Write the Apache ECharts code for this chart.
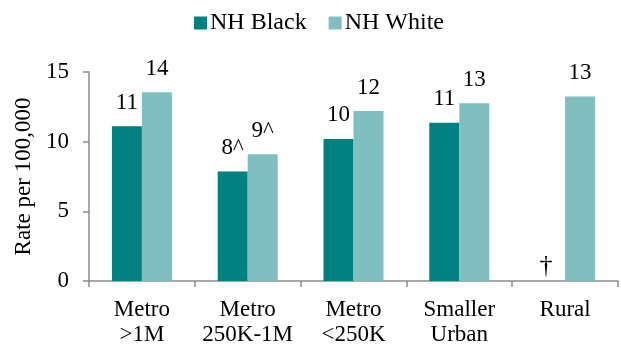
<!DOCTYPE html>
<html>
<head>
<meta charset="utf-8">
<script src="https://cdn.jsdelivr.net/npm/echarts@6.0.0/dist/echarts.min.js"></script>
<style>
  html, body { margin: 0; padding: 0; background: #fff; }
  #container { width: 621px; height: 347px; }
</style>
</head>
<body>
<div id="container"></div>
<script>
// data
var categories = ['Metro\n>1M', 'Metro\n250K-1M', 'Metro\n<250K', 'Smaller\nUrban', 'Rural'];
var blackValues = [11.1, 7.85, 10.2, 11.35, 0];
var whiteValues = [13.55, 9.1, 12.2, 12.75, 13.25];
var blackLabels = ['11', '8^', '10', '11', '\u2020'];
var whiteLabels = ['14', '9^', '12', '13', '13'];
var yTicks = [0, 5, 10, 15];

var font = '"Liberation Serif", "Times New Roman", serif';

var chart = echarts.init(document.getElementById('container'));

var option = {
    animation: false,
    textStyle: { fontFamily: font, color: '#000' },
    legend: {
        data: ['NH Black', 'NH White'],
        left: 189,
        top: 6,
        icon: 'rect',
        itemWidth: 13,
        itemHeight: 13,
        itemGap: 22,
        textStyle: { fontFamily: font, fontSize: 24, color: '#000', padding: [0, 0, 0, -2] }
    },
    grid: {
        left: 89,
        right: 3,
        top: 72,
        bottom: 66
    },
    xAxis: {
        type: 'category',
        data: categories,
        axisLine: { lineStyle: { color: '#8c8c8c', width: 1.5 } },
        axisTick: { show: true, length: 6, lineStyle: { color: '#8c8c8c', width: 1.5 } },
        axisLabel: {
            fontFamily: font, fontSize: 23, color: '#000',
            margin: 16, lineHeight: 25, interval: 0
        }
    },
    yAxis: {
        type: 'value',
        min: yTicks[0],
        max: yTicks[yTicks.length - 1],
        interval: 5,
        name: 'Rate per 100,000',
        nameLocation: 'middle',
        nameGap: 50,
        nameTextStyle: { fontFamily: font, fontSize: 23, color: '#000' },
        splitLine: { show: false },
        axisLine: { show: true, lineStyle: { color: '#8c8c8c', width: 1.5 } },
        axisTick: { show: true, length: 6, lineStyle: { color: '#8c8c8c', width: 1.5 } },
        axisLabel: { fontFamily: font, fontSize: 23, color: '#000', margin: 20 }
    },
    series: [
        {
            name: 'NH Black',
            type: 'bar',
            barWidth: 30,
            barGap: '0%',
            itemStyle: { color: '#008080' },
            label: {
                show: true,
                position: 'top',
                distance: 12,
                fontFamily: font,
                fontSize: 23,
                color: '#000',
                formatter: function (p) { return blackLabels[p.dataIndex]; }
            },
            data: blackValues.map(function (v, i) {
                // the dagger marks a suppressed rate: it sits low, near the axis
                if (blackLabels[i] === '\u2020') {
                    return { value: v, label: { distance: 2, fontSize: 26, offset: [-4, 0] } };
                }
                return v;
            })
        },
        {
            name: 'NH White',
            type: 'bar',
            barWidth: 30,
            itemStyle: { color: '#80bfbf' },
            label: {
                show: true,
                position: 'top',
                distance: 12,
                fontFamily: font,
                fontSize: 23,
                color: '#000',
                formatter: function (p) { return whiteLabels[p.dataIndex]; }
            },
            data: whiteValues
        }
    ]
};

if (option && typeof option === 'object') {
    chart.setOption(option, true);
}
</script>
</body>
</html>
